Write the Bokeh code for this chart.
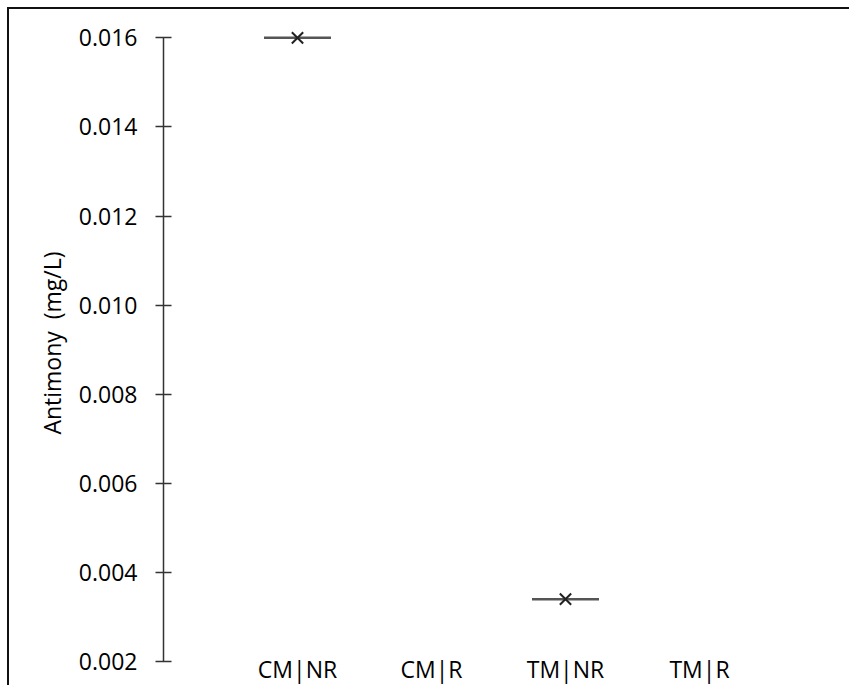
from bokeh.plotting import figure
from bokeh.models import FactorRange, ColumnDataSource, FixedTicker, CustomJSTickFormatter
from bokeh.transform import dodge
from bokeh.embed import file_html
from bokeh.resources import INLINE

categories = ["CM|NR", "CM|R", "TM|NR", "TM|R"]
point_cats = ["CM|NR", "TM|NR"]
point_values = [0.016, 0.0034]
y_ticks = [0.002, 0.004, 0.006, 0.008, 0.010, 0.012, 0.014, 0.016]
y_label = "Antimony\u00a0 (mg/L)"

FONT = "Open Sans"

p = figure(
    x_range=FactorRange(*categories, range_padding=0.5, range_padding_units="absolute"),
    y_range=(0.002, 0.0163),
    width=842, height=678,
    output_backend="svg", toolbar_location=None,
    min_border_left=154, min_border_right=18, min_border_top=15, min_border_bottom=26,
)
p.styles = {"border-left": "2px solid #111", "border-top": "2px solid #111",
            "margin-left": "7px", "margin-top": "7px"}
p.outline_line_color = None
p.xgrid.grid_line_color = None
p.ygrid.grid_line_color = None

# y axis
p.yaxis.ticker = FixedTicker(ticks=y_ticks)
p.yaxis.bounds = (y_ticks[0], y_ticks[-1])
p.yaxis.formatter = CustomJSTickFormatter(code="return tick.toFixed(3);")
p.yaxis.major_tick_in = 8
p.yaxis.major_tick_out = 8
p.yaxis.minor_tick_line_color = None
p.yaxis.axis_line_color = "#333333"
p.yaxis.axis_line_width = 1.5
p.yaxis.major_tick_line_color = "#333333"
p.yaxis.major_tick_line_width = 1.5
p.yaxis.major_label_standoff = 18
p.yaxis.major_label_text_font = FONT
p.yaxis.major_label_text_font_size = "23px"
p.yaxis.major_label_text_color = "#000000"
p.yaxis.axis_label = y_label
p.yaxis.axis_label_text_font = FONT
p.yaxis.axis_label_text_font_size = "23px"
p.yaxis.axis_label_text_font_style = "normal"
p.yaxis.axis_label_text_color = "#000000"
p.yaxis.axis_label_standoff = 8

# x axis
p.xaxis.axis_line_color = None
p.xaxis.major_tick_line_color = None
p.xaxis.minor_tick_line_color = None
p.xaxis.major_tick_out = 0
p.xaxis.major_tick_in = 0
p.xaxis.major_label_standoff = -9
p.xaxis.major_label_text_font = FONT
p.xaxis.major_label_text_font_size = "23px"
p.xaxis.major_label_text_color = "#000000"

src = ColumnDataSource(dict(cat=point_cats, val=point_values))
p.segment(x0=dodge("cat", -0.25, range=p.x_range), x1=dodge("cat", 0.25, range=p.x_range),
          y0="val", y1="val", source=src, line_color="#555555", line_width=2.5)
p.scatter(x="cat", y="val", source=src, marker="x", size=16,
          line_color="#222222", line_width=2)

open("out.html", "w").write(file_html(p, INLINE))
